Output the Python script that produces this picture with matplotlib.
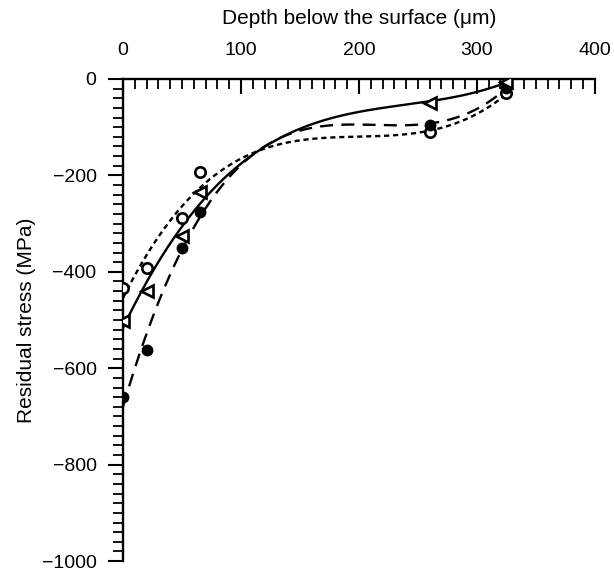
import numpy as np
import matplotlib
matplotlib.use("Agg")
import matplotlib.pyplot as plt
from matplotlib.ticker import MultipleLocator

plt.rcParams["font.family"] = ["Liberation Sans", "DejaVu Sans"]

# Depth below the surface (um) for each measurement
depth = [0, 20, 50, 65, 260, 325]
# Residual stress (MPa) for the three conditions
stress_open_circle = [-434, -393, -288, -193, -111, -30]
stress_filled_circle = [-660, -562, -350, -276, -95, -18]
stress_triangle = [-502, -440, -325, -235, -49, -6]

x_ticks = [0, 100, 200, 300, 400]
y_ticks = [0, -200, -400, -600, -800, -1000]

fig = plt.figure(figsize=(6.14, 5.72), dpi=100)
ax = fig.add_axes([0.2003, 0.019, 0.7685, 0.843])

x = np.asarray(depth, dtype=float)
xs = np.linspace(x.min(), x.max(), 300)


def trend(values, deg=3):
    coef = np.polyfit(x, np.asarray(values, dtype=float), deg)
    return np.polyval(coef, xs)


ax.plot(xs, trend(stress_open_circle), color="black", lw=1.7,
        linestyle=(0, (2.2, 1.6)))
ax.plot(xs, trend(stress_filled_circle), color="black", lw=1.7,
        linestyle=(0, (5.5, 3.5)))
ax.plot(xs, trend(stress_triangle), color="black", lw=1.7, linestyle="-")

ax.plot(depth, stress_open_circle, linestyle="none", marker="o", ms=7.5,
        mfc="white", mec="black", mew=1.9, zorder=5)
ax.plot(depth, stress_filled_circle, linestyle="none", marker="o", ms=7.5,
        mfc="black", mec="black", zorder=5)
ax.plot(depth, stress_triangle, linestyle="none", marker="<", ms=8.5,
        mfc="white", mec="black", mew=1.9, zorder=5)

ax.set_xlim(0, 400)
ax.set_ylim(-1000, 0)

ax.xaxis.tick_top()
ax.xaxis.set_label_position("top")
ax.set_xticks(x_ticks)
ax.set_yticks(y_ticks)
ax.xaxis.set_minor_locator(MultipleLocator(10))
ax.yaxis.set_minor_locator(MultipleLocator(20))

for side in ("bottom", "right"):
    ax.spines[side].set_visible(False)
for side in ("top", "left"):
    ax.spines[side].set_linewidth(1.7)

ax.tick_params(axis="x", which="major", direction="in", length=11, width=1.5,
               pad=14, labelsize=14)
ax.tick_params(axis="x", which="minor", direction="in", length=7, width=1.3)
ax.tick_params(axis="y", which="major", direction="out", length=11, width=1.5,
               pad=8, labelsize=14)
ax.tick_params(axis="y", which="minor", direction="out", length=7, width=1.3)

ax.set_xlabel("Depth below the surface (\u03bcm)", fontsize=15, labelpad=13)
ax.set_ylabel("Residual stress (MPa)", fontsize=15, labelpad=4)

fig.savefig("out.png", dpi=100)
